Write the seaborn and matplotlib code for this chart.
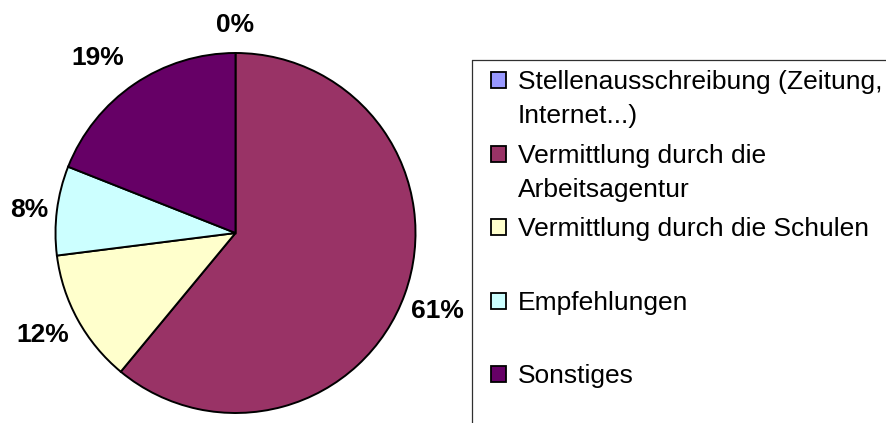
import numpy as np
import matplotlib
matplotlib.use("Agg")
import matplotlib.pyplot as plt
import seaborn as sns
from matplotlib.patches import Rectangle

# Share of each recruiting channel (percent)
categories = [
    "Stellenausschreibung (Zeitung,\nInternet...)",
    "Vermittlung durch die\nArbeitsagentur",
    "Vermittlung durch die Schulen",
    "Empfehlungen",
    "Sonstiges",
]
shares = [0, 61, 12, 8, 19]
colors = ["#9999FF", "#993366", "#FFFFCC", "#CCFFFF", "#660066"]

sns.set_theme(style="white")
plt.rcParams["font.family"] = ["Liberation Sans", "DejaVu Sans"]

W, H, DPI = 887, 423, 100
fig = plt.figure(figsize=(W / DPI, H / DPI), dpi=DPI)
fig.patch.set_facecolor("white")

# Pie axes: centre (235.5, 233) px, radius 180 px
cx, cy, r = 235.5, 233.0, 180.0
ax = fig.add_axes([(cx - r) / W, (H - cy - r) / H, 2 * r / W, 2 * r / H])
wedges, _ = ax.pie(
    shares,
    colors=colors,
    startangle=90,
    counterclock=False,
    radius=1.0,
    wedgeprops=dict(edgecolor="black", linewidth=1.4),
)
ax.set_xlim(-1, 1)
ax.set_ylim(-1, 1)
ax.set_aspect("equal")
ax.axis("off")

# Percentage labels just outside each wedge (radial distance, angular nudge)
label_dist = [1.17, 1.20, 1.205, 1.155, 1.245]
label_nudge = [0.0, -0.8, -1.5, 0.2, 3.6]
half_cap = 9.4 / r  # half the digit height, in pie units
for w, val, d, nd in zip(wedges, shares, label_dist, label_nudge):
    mid = np.deg2rad((w.theta1 + w.theta2) / 2 + nd)
    ax.text(d * np.cos(mid), d * np.sin(mid) - half_cap, f"{val}%",
            ha="center", va="baseline", fontsize=19, fontweight="bold",
            color="black", clip_on=False)

# Legend drawn in pixel coordinates on an overlay
ov = fig.add_axes([0, 0, 1, 1])
ov.set_xlim(0, W)
ov.set_ylim(H, 0)
ov.axis("off")
ov.plot([472.5, 472.5], [60.5, H + 5], color="#303030", lw=0.9, clip_on=False)
ov.plot([472.5, W + 5], [60.5, 60.5], color="#303030", lw=0.9, clip_on=False)

row0, step = 80.5, 73.4
for i, (lab, col) in enumerate(zip(categories, colors)):
    yc = row0 + i * step
    ov.add_patch(Rectangle((491, yc - 8), 15, 16, facecolor=col,
                           edgecolor="black", lw=1.3))
    for j, line in enumerate(lab.split("\n")):
        ov.text(518, yc + 9 + j * 34, line, ha="left", va="baseline",
                fontsize=19, color="black")

fig.savefig("out.png", dpi=DPI, facecolor="white")
